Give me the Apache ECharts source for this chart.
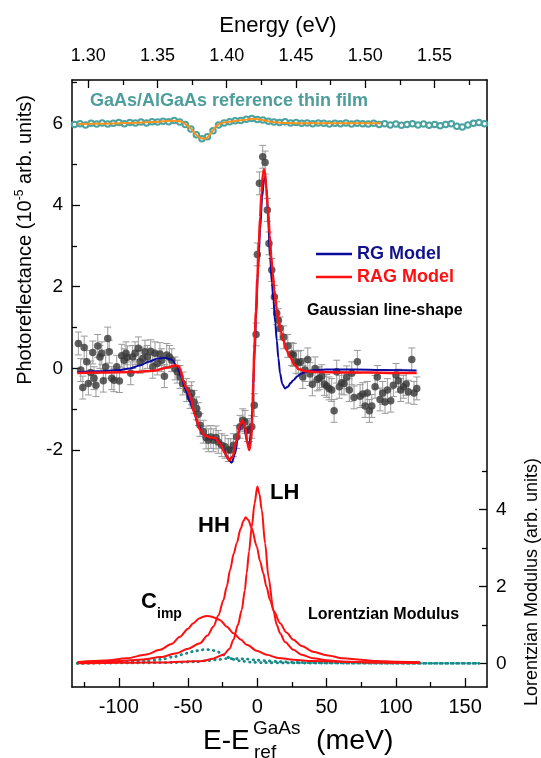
<!DOCTYPE html>
<html><head><meta charset="utf-8">
<script src="https://cdn.jsdelivr.net/npm/echarts@6/dist/echarts.min.js"></script>
<style>html,body{margin:0;padding:0;background:#fff}#c{width:541px;height:758px}</style>
</head><body><div id="c"></div>
<script>
// ---------- axis ranges / ticks ----------
const xMin = -133.8, xMax = 165.8;           // E - Eref (meV)
const eMin = 1.2883, eMax = 1.5879;          // Energy (eV)
const yLeftMin = -7.8, yLeftMax = 7.06;      // photoreflectance
const yRightMin = -0.616, yRightMax = 15.15; // Lorentzian modulus
const bottomMajor = [-100, -50, 0, 50, 100, 150];
const bottomMinor = [-125, -75, -25, 25, 75, 125];
const topMajor = [1.30, 1.35, 1.40, 1.45, 1.50, 1.55];
const topMinor = [1.325, 1.375, 1.425, 1.475, 1.525, 1.575];
const leftMajor = [-2, 0, 2, 4, 6];
const leftMinor = [-1, 1, 3, 5, 7];
const rightMajor = [0, 2, 4];
const rightMinor = [1, 3, 5];

// ---------- reference thin film ----------
const refX = [-132,-128,-124,-120,-116,-112,-108,-104,-100,-96,-92,-88,-84,-80,-76,-72,-68,-64,-60,-56,-52,-48,-44,-40,-36,-32,-28,-24,-20,-16,-12,-8,-4,0,4,8,12,16,20,24,28,32,36,40,44,48,52,56,60,64,68,72,76,80,84,88,92,96,100,104,108,112,116,120,124,128,132,136,140,144,148,152,156,160,164];
const refY = [5.97,5.99,5.96,6.00,5.98,6.01,5.98,6.00,6.02,5.99,6.02,6.01,6.03,6.01,6.04,6.03,6.05,6.04,6.07,6.03,5.97,5.86,5.72,5.62,5.67,5.82,5.96,6.01,6.04,6.06,6.07,6.10,6.12,6.09,6.08,6.05,6.03,6.02,6.04,6.01,6.02,6.00,6.01,5.99,6.01,6.00,5.98,6.00,5.99,6.01,5.98,6.00,5.99,5.98,6.00,5.97,5.99,5.96,5.98,5.95,5.97,5.99,5.96,5.98,5.95,5.97,5.94,5.97,5.99,5.93,5.91,5.96,6.00,6.02,5.99];
const refFitX = [-130,-110,-90,-75,-62,-56,-52,-48,-45,-42,-39,-36,-33,-30,-27,-22,-15,-8,-4,0,5,11,20,40,60,89];
const refFitY = [5.98,5.99,6.01,6.03,6.06,6.05,5.98,5.87,5.75,5.66,5.62,5.66,5.78,5.92,5.99,6.03,6.06,6.09,6.11,6.10,6.07,6.03,6.01,6.00,6.00,6.00];

// ---------- experimental PR data ----------
const expX = [-129.2,-127.5,-126.0,-125.0,-123.2,-122.0,-120.3,-118.8,-117.9,-116.5,-115.2,-113.6,-112.3,-111.2,-109.5,-108.0,-106.9,-105.1,-103.5,-101.5,-99.6,-97.9,-96.2,-94.8,-93.9,-91.4,-90.0,-88.3,-85.9,-84.7,-82.7,-81.1,-79.4,-77.0,-75.5,-73.9,-72.2,-70.3,-69.0,-67.1,-65.4,-63.5,-61.8,-59.4,-57.8,-55.8,-53.9,-51.0,-48.6,-47.4,-45.7,-43.8,-42.6,-41.4,-39.0,-37.0,-35.4,-33.6,-31.8,-29.8,-28.2,-25.7,-23.3,-20.9,-19.2,-17.3,-14.9,-12.5,-10.5,-8.9,-7.2,-5.8,-4.0,-2.2,-0.9,0.0,1.5,3.9,5.6,7.2,8.4,10.4,12.3,14.0,15.2,16.4,19.0,22.0,24.8,26.0,27.9,29.6,31.3,32.8,34.4,36.4,38.0,39.7,41.7,43.3,44.8,46.5,48.4,50.1,51.8,53.7,55.4,57.3,59.2,60.9,62.6,64.5,66.4,68.2,69.8,72.2,74.2,76.1,77.8,79.4,80.9,82.6,85.0,86.6,88.6,90.5,92.2,93.9,96.3,98.2,100.1,101.8,103.5,105.4,107.4,109.0,111.5,113.1,115.1];
const expY = [0.61,-0.04,-0.47,0.51,0.16,-0.37,-0.10,0.39,-0.24,-0.41,0.55,0.28,0.37,-0.30,0.04,0.73,0.41,-0.24,-0.29,0.04,-0.31,0.31,0.20,0.37,0.27,-0.12,0.28,0.37,0.49,0.16,0.24,0.41,0.28,0.42,0.04,0.37,0.12,0.35,0.20,-0.19,0.33,0.28,0.20,0.00,-0.08,-0.21,-0.37,-0.53,-0.70,-0.61,-0.82,-0.98,-1.12,-1.39,-1.55,-1.69,-1.76,-1.68,-1.76,-1.69,-1.80,-1.88,-1.92,-2.00,-2.00,-1.88,-1.68,-1.43,-1.27,-1.31,-1.51,-1.51,-1.43,-0.90,0.83,2.79,4.53,5.18,5.04,3.88,3.06,2.41,1.75,1.35,1.18,0.98,0.76,0.55,0.35,0.33,0.16,0.14,0.16,-0.21,-0.04,0.22,-0.14,-0.39,0.00,-0.27,-0.24,-0.19,-0.38,-0.43,-0.49,-0.53,-1.04,-0.08,-0.45,-0.35,-0.37,-0.22,-0.53,-0.12,-0.71,0.16,-0.68,-0.63,-0.92,-0.60,-1.04,-0.92,-0.45,-0.21,-0.76,-0.60,-0.82,-0.53,-0.79,-0.41,-0.16,-0.30,-0.53,-0.45,-0.38,-0.57,0.22,-0.60,-0.49];
const expErr = 0.28;

// ---------- model fits ----------
const rgX = [-130,-115,-100,-92,-85,-78,-72,-67,-62,-58,-55,-52,-49,-46.2,-42.6,-39,-35,-31.8,-28,-25,-22,-18.5,-16,-13.7,-11.3,-9.6,-7.7,-6,-4.5,-3.3,-2.4,-1,0.5,2,3.5,4.7,5.6,6.5,7.5,9.2,10.5,11.6,13,14,15.2,16.4,18,20,22,24,26,29,32,38,50,70,90,115];
const rgY = [-0.09,-0.07,-0.04,0.00,0.07,0.17,0.24,0.26,0.22,0.05,-0.20,-0.50,-0.80,-1.02,-1.40,-1.62,-1.70,-1.71,-1.78,-1.95,-2.16,-2.31,-2.08,-1.59,-1.31,-1.39,-1.76,-1.92,-1.59,-0.78,0.10,1.20,2.40,3.40,4.20,4.60,4.69,4.45,3.90,2.73,2.10,1.67,1.10,0.69,0.25,-0.12,-0.38,-0.49,-0.45,-0.36,-0.29,-0.19,-0.12,-0.05,-0.03,-0.03,-0.04,-0.05];
const ragX = [-130,-110,-90,-75,-65,-60,-57,-55.8,-53.5,-51,-48.6,-45,-41.4,-37.8,-34.2,-30.5,-26.9,-23.3,-20.4,-17.8,-14.9,-12.5,-10.8,-8.9,-7.2,-5.8,-4.5,-3.6,-2.9,-2.2,-1,0,1,2,3,4,4.8,5.5,6.5,7.5,9,10,11,12.3,14,15.2,17,18.8,21,23.6,27,30,35,45,60,80,100,115];
const ragY = [-0.11,-0.10,-0.09,-0.06,0.02,0.07,0.06,0.00,-0.30,-0.50,-0.65,-1.15,-1.50,-1.65,-1.69,-1.71,-1.84,-2.08,-2.25,-2.16,-1.76,-1.39,-1.27,-1.43,-1.84,-2.00,-1.76,-1.18,-0.37,0.45,1.40,2.20,3.00,3.70,4.30,4.75,4.87,4.80,4.40,3.96,3.25,2.75,2.35,1.92,1.45,1.18,0.90,0.69,0.45,0.28,0.08,-0.02,-0.07,-0.09,-0.10,-0.10,-0.11,-0.11];

// ---------- Lorentzian modulus ----------
const lhX = [-130,-110,-90,-70,-55,-45,-39,-32,-24.5,-20,-17.3,-14,-11.3,-9,-7.7,-6,-4,-2,0,1.5,3.2,5.6,8,11.6,14,16.4,20,26,32,40.4,50,62,80,100,117.5];
const lhY = [0.00,0.01,0.015,0.02,0.04,0.05,0.06,0.12,0.22,0.38,0.61,1.00,1.38,1.90,2.34,2.90,3.55,4.15,4.59,4.40,3.98,3.12,2.25,1.38,1.00,0.78,0.55,0.35,0.22,0.13,0.08,0.04,0.03,0.02,0.02];
const hhX = [-130,-118.4,-100,-82.3,-70,-58.2,-50,-41.4,-36,-31.8,-28,-24.5,-22,-19.7,-17,-14.9,-12,-10,-8.4,-6.5,-4,-0.4,2,4.3,6.5,9.2,12,16.4,21,26,32,40.4,50,62,75,86,100,117.5];
const hhY = [0.02,0.03,0.06,0.10,0.16,0.26,0.38,0.52,0.72,0.95,1.25,1.64,2.00,2.42,2.85,3.12,3.50,3.70,3.79,3.72,3.50,3.03,2.65,2.34,2.00,1.64,1.35,1.04,0.80,0.61,0.45,0.30,0.21,0.13,0.09,0.06,0.04,0.03];
const cimpX = [-130,-110,-94.3,-80,-70.2,-62,-55.8,-50,-46.2,-42,-39,-36.5,-33,-30,-26.9,-22,-17.3,-12,-7.7,0,6.8,15,26,40,62,90,117.5];
const cimpY = [0.03,0.07,0.13,0.23,0.35,0.50,0.69,0.90,1.04,1.16,1.21,1.23,1.21,1.17,1.12,0.95,0.78,0.62,0.48,0.32,0.22,0.14,0.09,0.06,0.04,0.02,0.01];
const dotAX = [-130,-100,-80,-70,-60,-51,-45,-40,-37.8,-34,-30,-27,-24,-22,-19,-17.3,-12,-5,5,20,50,100,130,160];
const dotAY = [0.00,0.02,0.06,0.10,0.17,0.26,0.32,0.35,0.36,0.35,0.32,0.28,0.22,0.17,0.12,0.10,0.06,0.03,0.015,0.01,0.005,0.00,0.00,0.00];
const dotBX = [-130,-90,-60,-45,-35,-28,-22,-15,-8,0,8,16,30,50,80,120,160];
const dotBY = [0.00,0.01,0.02,0.04,0.07,0.10,0.12,0.12,0.11,0.08,0.06,0.04,0.02,0.01,0.005,0.00,0.00];

const pairs = (xs, ys) => xs.map((x, i) => [x, ys[i]]);
const FONT = 'Liberation Sans, Arial, Helvetica, sans-serif';
const BLACK = '#000';

function xAx(pos, min, max, ticks, len, labels, lineShow, fmt) {
  return {
    type: 'value', position: pos, min: min, max: max, scale: false,
    axisLine: { show: lineShow, onZero: false, lineStyle: { color: BLACK, width: 1.5 } },
    axisTick: { show: true, inside: true, length: len, customValues: ticks, lineStyle: { color: BLACK, width: 1.3 } },
    axisLabel: labels ? { show: true, customValues: labels, fontFamily: FONT, fontSize: pos === 'top' ? 18 : 20, color: BLACK, margin: pos === 'top' ? 15 : 10, formatter: fmt } : { show: false },
    splitLine: { show: false }
  };
}
function yAx(pos, min, max, ticks, len, labels, lineShow) {
  return {
    type: 'value', position: pos, min: min, max: max,
    axisLine: { show: lineShow, onZero: false, lineStyle: { color: BLACK, width: 1.5 } },
    axisTick: { show: true, inside: true, length: len, customValues: ticks, lineStyle: { color: BLACK, width: 1.3 } },
    axisLabel: labels ? { show: true, customValues: labels, fontFamily: FONT, fontSize: 19, color: BLACK, margin: 9 } : { show: false },
    splitLine: { show: false }
  };
}

const chart = echarts.init(document.getElementById('c'), null, { renderer: 'canvas' });
chart.setOption({
  animation: false,
  backgroundColor: '#fff',
  grid: { left: 72, right: 54, top: 80, bottom: 71, containLabel: false },
  xAxis: [
    xAx('bottom', xMin, xMax, bottomMajor, 9, bottomMajor, true, v => String(v)),
    xAx('bottom', xMin, xMax, bottomMinor, 5, null, false),
    xAx('top', eMin, eMax, topMajor, 8, topMajor, true, v => Number(v).toFixed(2)),
    xAx('top', eMin, eMax, topMinor, 5, null, false)
  ],
  yAxis: [
    yAx('left', yLeftMin, yLeftMax, leftMajor, 8, leftMajor, true),
    yAx('right', yRightMin, yRightMax, rightMajor, 8, rightMajor, true),
    yAx('left', yLeftMin, yLeftMax, leftMinor, 5, null, false),
    yAx('right', yRightMin, yRightMax, rightMinor, 5, null, false)
  ],
  legend: {
    left: 311, top: 240, orient: 'vertical', itemGap: 5, itemWidth: 36, itemHeight: 2.5,
    icon: 'rect',
    textStyle: { fontFamily: FONT, fontSize: 18, fontWeight: 'bold', padding: [0, 0, 0, 0] },
    data: [
      { name: 'RG Model', textStyle: { color: '#12128c' } },
      { name: 'RAG Model', textStyle: { color: '#ff1010' } }
    ]
  },
  series: [
    { name: 'ref data', type: 'line', data: pairs(refX, refY), xAxisIndex: 0, yAxisIndex: 0,
      symbol: 'emptyCircle', symbolSize: 5.5, showSymbol: true,
      lineStyle: { color: '#4aa3a0', width: 1 }, itemStyle: { color: '#4aa3a0', borderColor: '#4aa3a0', borderWidth: 1.2 }, z: 2 },
    { name: 'ref fit', type: 'line', data: pairs(refFitX, refFitY), xAxisIndex: 0, yAxisIndex: 0,
      showSymbol: false, smooth: 0.4, lineStyle: { color: '#f7931e', width: 2 }, z: 3 },
    { name: 'err', type: 'custom', xAxisIndex: 0, yAxisIndex: 0, z: 3,
      data: expX.map((x, i) => [x, expY[i], expErr]),
      renderItem: function (params, api) {
        const x = api.value(0), y = api.value(1), e = api.value(2);
        const t = api.coord([x, y + e]), b = api.coord([x, y - e]);
        const w = 3.5, st = { stroke: '#9a9a9a', lineWidth: 1 };
        return { type: 'group', children: [
          { type: 'line', shape: { x1: t[0], y1: t[1], x2: b[0], y2: b[1] }, style: st },
          { type: 'line', shape: { x1: t[0] - w, y1: t[1], x2: t[0] + w, y2: t[1] }, style: st },
          { type: 'line', shape: { x1: b[0] - w, y1: b[1], x2: b[0] + w, y2: b[1] }, style: st }
        ] };
      } },
    { name: 'PR data', type: 'scatter', data: pairs(expX, expY), xAxisIndex: 0, yAxisIndex: 0,
      symbol: 'circle', symbolSize: 7.5, itemStyle: { color: '#383838' }, z: 4 },
    { name: 'RG Model', type: 'line', data: pairs(rgX, rgY), xAxisIndex: 0, yAxisIndex: 0,
      showSymbol: false, smooth: 0.3, smoothMonotone: 'x', color: '#0a0a9e', lineStyle: { color: '#0a0a9e', width: 2 }, z: 5 },
    { name: 'RAG Model', type: 'line', data: pairs(ragX, ragY), xAxisIndex: 0, yAxisIndex: 0,
      showSymbol: false, smooth: 0.3, smoothMonotone: 'x', color: '#ff1010', lineStyle: { color: '#ff1010', width: 2.5 }, z: 6 },
    { name: 'LH', type: 'line', data: pairs(lhX, lhY), xAxisIndex: 0, yAxisIndex: 1,
      showSymbol: false, smooth: 0.3, smoothMonotone: 'x', lineStyle: { color: '#ff1010', width: 2 }, z: 5 },
    { name: 'HH', type: 'line', data: pairs(hhX, hhY), xAxisIndex: 0, yAxisIndex: 1,
      showSymbol: false, smooth: 0.3, smoothMonotone: 'x', lineStyle: { color: '#ff1010', width: 2 }, z: 5 },
    { name: 'Cimp', type: 'line', data: pairs(cimpX, cimpY), xAxisIndex: 0, yAxisIndex: 1,
      showSymbol: false, smooth: 0.3, smoothMonotone: 'x', lineStyle: { color: '#ff1010', width: 2 }, z: 5 },
    { name: 'dotA', type: 'line', data: pairs(dotAX, dotAY), xAxisIndex: 0, yAxisIndex: 1,
      showSymbol: false, smooth: 0.3, smoothMonotone: 'x', lineStyle: { color: '#178a8a', width: 2.8, type: [0.5, 5], cap: 'round' }, z: 4 },
    { name: 'dotB', type: 'line', data: pairs(dotBX, dotBY), xAxisIndex: 0, yAxisIndex: 1,
      showSymbol: false, smooth: 0.3, smoothMonotone: 'x', lineStyle: { color: '#178a8a', width: 2.8, type: [0.5, 5], cap: 'round' }, z: 4 }
  ],
  graphic: [
    { type: 'text', x: 278, y: 26, style: { text: 'Energy (eV)', font: '22px ' + FONT, fill: BLACK, align: 'center', verticalAlign: 'middle' } },
    { type: 'text', x: 25, y: 240, rotation: Math.PI / 2, style: {
        text: 'Photoreflectance (10{sup|-5} arb. units)', font: '20px ' + FONT, fill: BLACK, align: 'center', verticalAlign: 'middle',
        rich: { sup: { fontSize: 12, fontFamily: FONT, fill: BLACK, verticalAlign: 'top', padding: [0, 0, 10, 0] } } } },
    { type: 'text', x: 532, y: 582, rotation: Math.PI / 2, style: { text: 'Lorentzian Modulus (arb. units)', font: '18px ' + FONT, fill: BLACK, align: 'center', verticalAlign: 'middle' } },
    { type: 'text', x: 203, y: 741, style: { text: 'E-E', font: '28px ' + FONT, fill: BLACK, align: 'left', verticalAlign: 'middle' } },
    { type: 'text', x: 253, y: 729, style: { text: 'GaAs', font: '19px ' + FONT, fill: BLACK, align: 'left', verticalAlign: 'middle' } },
    { type: 'text', x: 254, y: 753, style: { text: 'ref', font: '19px ' + FONT, fill: BLACK, align: 'left', verticalAlign: 'middle' } },
    { type: 'text', x: 316, y: 741, style: { text: '(meV)', font: '28.5px ' + FONT, fill: BLACK, align: 'left', verticalAlign: 'middle' } },
    { type: 'text', x: 90, y: 101, style: { text: 'GaAs/AlGaAs reference thin film', font: 'bold 18px ' + FONT, fill: '#4f9e9b', align: 'left', verticalAlign: 'middle' } },
    { type: 'text', x: 307, y: 311, style: { text: 'Gaussian line-shape', font: 'bold 16px ' + FONT, fill: BLACK, align: 'left', verticalAlign: 'middle' } },
    { type: 'text', x: 308, y: 615, style: { text: 'Lorentzian Modulus', font: 'bold 16px ' + FONT, fill: BLACK, align: 'left', verticalAlign: 'middle' } },
    { type: 'text', x: 198, y: 526, style: { text: 'HH', font: 'bold 22px ' + FONT, fill: BLACK, align: 'left', verticalAlign: 'middle' } },
    { type: 'text', x: 270, y: 493, style: { text: 'LH', font: 'bold 22px ' + FONT, fill: BLACK, align: 'left', verticalAlign: 'middle' } },
    { type: 'text', x: 141, y: 602, style: { text: 'C', font: 'bold 22px ' + FONT, fill: BLACK, align: 'left', verticalAlign: 'middle' } },
    { type: 'text', x: 157, y: 614, style: { text: 'imp', font: 'bold 14px ' + FONT, fill: BLACK, align: 'left', verticalAlign: 'middle' } }
  ]
});
</script>
</body></html>
